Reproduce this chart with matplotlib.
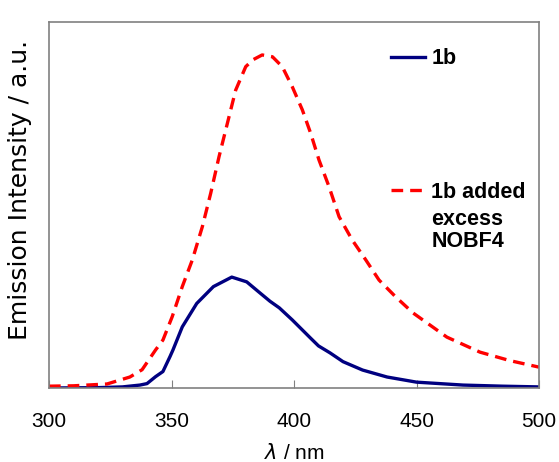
import matplotlib
matplotlib.use("Agg")
import matplotlib.pyplot as plt

# emission spectra (normalised arbitrary units)
wl_1b = [300, 320, 330, 337.1, 340, 343.5, 346.5, 349.4, 350.6, 354.4, 360.3, 367.1,
         374.6, 380.7, 385.7, 390.2, 394, 399.3, 406.8, 410, 414.7, 420, 428, 438,
         450, 469, 485, 500]
em_1b = [0.0, 0.001, 0.003, 0.008, 0.012, 0.031, 0.045, 0.086, 0.104, 0.167, 0.231, 0.277,
         0.303, 0.290, 0.262, 0.237, 0.219, 0.186, 0.136, 0.115, 0.096, 0.072, 0.049, 0.030,
         0.016, 0.008, 0.005, 0.003]

wl_nobf4 = [300, 310, 323.7, 333, 338, 343.5, 346.5, 350.3, 354.4, 358.5, 362.6, 366,
            369.4, 372.8, 376.2, 380.3, 383.3, 387, 391.2, 395.2, 399.3, 403.4, 406.8,
            410.2, 414.3, 418.4, 423.8, 429.3, 434.7, 441.5, 448.6, 462.4, 475.9, 488, 500]
em_nobf4 = [0.005, 0.006, 0.011, 0.030, 0.050, 0.104, 0.131, 0.195, 0.277, 0.350, 0.441,
            0.532, 0.632, 0.723, 0.814, 0.878, 0.897, 0.910, 0.905, 0.878, 0.823, 0.760,
            0.696, 0.623, 0.550, 0.468, 0.404, 0.350, 0.295, 0.249, 0.205, 0.139, 0.098,
            0.075, 0.057]

label_1b = "1b"
label_nobf4 = "1b added"
label_nobf4_extra = "excess\nNOBF4"

fig = plt.figure(figsize=(5.59, 4.62), dpi=100)
ax = fig.add_axes([49 / 559, 1 - 388 / 462, 490 / 559, 366 / 462])

l1, = ax.plot(wl_1b, em_1b, color="#000080", lw=2.4, solid_joinstyle="round")
l2, = ax.plot(wl_nobf4, em_nobf4, color="#ff0000", lw=2.4, ls=(0, (3.5, 2.1)))

ax.set_xlim(300, 500)
ax.set_ylim(0, 1.0)
ax.set_xticks([300, 350, 400, 450, 500])
ax.set_yticks([])
ax.tick_params(axis="x", direction="in", length=6, color="#808080", pad=17)
for t in ax.get_xticklabels():
    t.set_fontfamily("Liberation Sans")
    t.set_fontsize(15)
for s in ax.spines.values():
    s.set_color("#808080")
    s.set_linewidth(1.2)

ax.set_xlabel(r"$\lambda$ / nm", fontsize=15, family="Liberation Sans", labelpad=9)
ax.set_ylabel("Emission Intensity / a.u.", fontsize=18)
ax.yaxis.set_label_coords(-0.035, 0.54)

leg_font = {"weight": "bold", "size": 15.5, "family": "Liberation Sans"}
leg1 = ax.legend(handles=[l1], labels=[label_1b], loc="center left",
                 bbox_to_anchor=(0.698, 0.899), frameon=False, borderpad=0,
                 borderaxespad=0, handlelength=1.6, handletextpad=0.28, prop=leg_font)
ax.add_artist(leg1)
ax.legend(handles=[l2], labels=[label_nobf4], loc="center left",
          bbox_to_anchor=(0.698, 0.5355), frameon=False, borderpad=0,
          borderaxespad=0, handlelength=1.6, handletextpad=0.28, prop=leg_font)
ax.text(0.78, 0.43, label_nobf4_extra, transform=ax.transAxes, ha="left", va="center",
        fontdict=leg_font, linespacing=1.1)

fig.savefig("out.png", dpi=100)
